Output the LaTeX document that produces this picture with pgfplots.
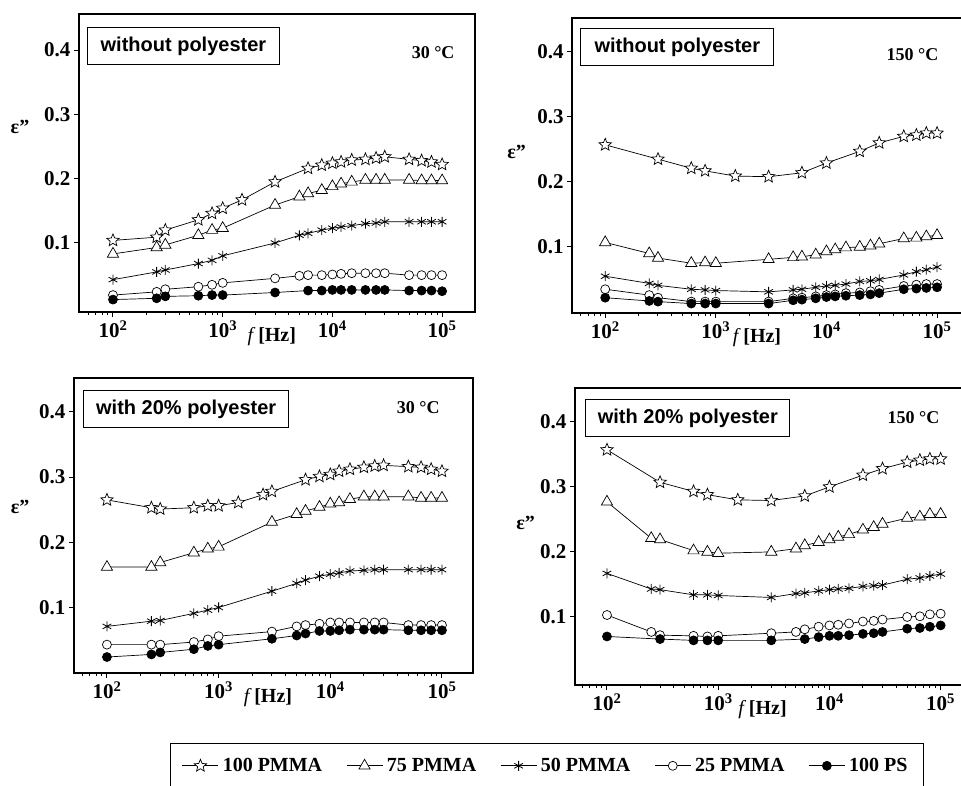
\documentclass[border=0pt]{standalone}
\usepackage{pgfplots}
\pgfplotsset{compat=1.18}
\usepackage{pgfplotstable}
\usepackage{fontspec}
\setmainfont{Liberation Serif}
\setsansfont{Liberation Sans}

\pgfdeclareplotmark{ostar}{%
  \pgfpathmoveto{\pgfpointpolar{90}{\pgfplotmarksize}}%
  \pgfpathlineto{\pgfpointpolar{126}{0.45\pgfplotmarksize}}%
  \pgfpathlineto{\pgfpointpolar{162}{\pgfplotmarksize}}%
  \pgfpathlineto{\pgfpointpolar{198}{0.45\pgfplotmarksize}}%
  \pgfpathlineto{\pgfpointpolar{234}{\pgfplotmarksize}}%
  \pgfpathlineto{\pgfpointpolar{270}{0.45\pgfplotmarksize}}%
  \pgfpathlineto{\pgfpointpolar{306}{\pgfplotmarksize}}%
  \pgfpathlineto{\pgfpointpolar{342}{0.45\pgfplotmarksize}}%
  \pgfpathlineto{\pgfpointpolar{18}{\pgfplotmarksize}}%
  \pgfpathlineto{\pgfpointpolar{54}{0.45\pgfplotmarksize}}%
  \pgfpathclose
  \pgfusepathqfillstroke}

\pgfplotstableread{
f      s100  t75   a50   c25   ps
100    0.104 0.083 0.043 0.019 0.012
250    0.109 0.093 0.055 0.024 0.014
300    0.120 0.097 0.058 0.028 0.017
600    0.136 0.112 0.068 0.032 0.018
800    0.146 0.120 0.073 0.035 0.019
1000   0.154 0.123 0.080 0.038 0.019
1500   0.167 nan   nan   nan   nan
3000   0.195 0.159 0.100 0.045 0.023
5000   nan   0.172 0.112 0.049 nan
6000   0.216 0.177 0.115 0.050 0.026
8000   0.221 0.182 0.120 0.050 0.026
10000  0.224 0.188 0.123 0.051 0.027
12000  0.226 0.192 0.125 0.052 0.027
15000  0.229 0.195 0.127 0.053 0.027
20000  0.230 0.198 0.130 0.053 0.027
25000  0.232 0.198 0.131 0.053 0.027
30000  0.234 0.198 0.133 0.053 0.027
50000  0.230 0.198 0.133 0.050 0.026
65000  0.228 0.197 0.133 0.050 0.026
80000  0.226 0.197 0.133 0.050 0.026
100000 0.222 0.197 0.133 0.050 0.025
}\tA

\pgfplotstableread{
f      s100  t75   a50   c25   ps
100    0.257 0.107 0.055 0.035 0.022
250    nan   0.090 0.044 0.026 0.017
300    0.235 0.083 0.041 0.022 0.016
600    0.221 0.075 0.035 0.016 0.013
800    0.217 0.076 0.034 0.016 0.013
1000   nan   0.075 0.033 0.016 0.013
1500   0.209 nan   nan   nan   nan
3000   0.208 0.081 0.031 0.016 0.013
5000   nan   0.084 0.034 0.021 0.018
6000   0.214 0.085 0.035 0.022 0.019
8000   nan   0.088 0.038 0.024 0.021
10000  0.229 0.093 0.040 0.026 0.023
12000  nan   0.096 0.041 0.027 0.024
15000  nan   0.099 0.043 0.029 0.025
20000  0.247 0.100 0.047 0.030 0.026
25000  nan   0.102 0.048 0.032 0.027
30000  0.260 0.105 0.050 0.034 0.029
50000  0.270 0.113 0.057 0.040 0.035
65000  0.272 0.114 0.062 0.042 0.036
80000  0.275 0.116 0.065 0.043 0.037
100000 0.275 0.118 0.069 0.043 0.038
}\tB

\pgfplotstableread{
f      s100  t75   a50   c25   ps
100    0.265 0.162 0.071 0.043 0.024
250    0.253 0.162 0.079 0.043 0.028
300    0.251 0.169 0.080 0.043 0.031
600    0.253 0.184 0.091 0.047 0.036
800    0.256 0.190 0.096 0.051 0.041
1000   0.256 0.193 0.100 0.056 0.043
1500   0.261 nan   nan   nan   nan
2500   0.273 nan   nan   nan   nan
3000   0.278 0.231 0.125 0.063 0.052
5000   nan   0.243 0.137 0.071 0.057
6000   0.296 0.248 0.142 0.073 0.060
8000   0.301 0.254 0.148 0.075 0.064
10000  0.304 0.259 0.151 0.077 0.064
12000  0.309 0.261 0.153 0.077 0.065
15000  0.312 0.266 0.156 0.077 0.066
20000  0.315 0.270 0.157 0.077 0.066
25000  0.317 0.270 0.158 0.077 0.066
30000  0.318 0.270 0.158 0.077 0.066
50000  0.316 0.270 0.158 0.073 0.065
65000  0.315 0.268 0.158 0.073 0.065
80000  0.312 0.268 0.158 0.073 0.065
100000 0.309 0.268 0.158 0.073 0.065
}\tC

\pgfplotstableread{
f      s100  t75   a50   c25   ps
100    0.357 0.277 0.167 0.103 0.070
250    nan   0.221 0.143 0.077 nan
300    0.307 0.219 0.142 0.072 0.066
600    0.293 0.202 0.134 0.071 0.064
800    0.288 0.200 0.134 0.070 0.064
1000   nan   0.198 0.133 0.071 0.064
1500   0.280 nan   nan   nan   nan
3000   0.279 0.200 0.130 0.075 0.064
5000   nan   0.205 0.136 0.077 nan
6000   0.286 0.210 0.137 0.081 0.066
8000   nan   0.215 0.140 0.085 0.069
10000  0.300 0.219 0.142 0.087 0.071
12000  nan   0.223 0.143 0.088 0.071
15000  nan   0.227 0.144 0.090 0.072
20000  0.318 0.234 0.147 0.093 0.074
25000  nan   0.238 0.148 0.094 0.075
30000  0.328 0.243 0.149 0.096 0.077
50000  0.338 0.252 0.158 0.100 0.082
65000  0.341 0.254 0.160 0.101 0.083
80000  0.343 0.258 0.163 0.104 0.085
100000 0.343 0.258 0.166 0.105 0.087
}\tD

\pgfplotsset{
  mypanel/.style={
    scale only axis,
    axis line style={line width=1.8bp},
    tick align=outside, xtick pos=bottom, ytick pos=left,
    major tick length=5bp, minor tick length=3bp,
    every tick/.style={black, line width=1bp},
    xtick={100,1000,10000,100000},
    xticklabels={10\textsuperscript{2},10\textsuperscript{3},10\textsuperscript{4},10\textsuperscript{5}},
    minor xtick={60,70,80,90,200,300,400,500,600,700,800,900,2000,3000,4000,5000,6000,7000,8000,9000,20000,30000,40000,50000,60000,70000,80000,90000,200000},
    ytick={0.1,0.2,0.3,0.4}, yticklabels={0.1,0.2,0.3,0.4},
    tick label style={font=\bfseries\fontsize{21bp}{21bp}\selectfont},
    xlabel={{\normalfont\itshape f} [Hz]},
    xlabel style={font=\bfseries\fontsize{20bp}{20bp}\selectfont, anchor=north, yshift=-12bp},
    ylabel={ε''},
    ylabel style={font=\bfseries\fontsize{20bp}{20bp}\selectfont, rotate=-90, anchor=center},
    every axis plot/.append style={black, line width=0.7bp},
    legend image code/.code={\draw[mark repeat=2,mark phase=2] plot coordinates {(0bp,0bp) (18bp,0bp) (36bp,0bp)};},
  },
}
\tikzset{
  serA/.style={mark=ostar, mark size=6.5bp, mark options={fill=white, line width=0.7bp}},
  serB/.style={mark=triangle*, mark size=6.5bp, mark options={fill=white, line width=0.7bp}},
  serC/.style={mark=asterisk, mark size=5bp, mark options={line width=0.8bp}},
  serD/.style={mark=*, mark size=4.5bp, mark options={fill=white, line width=0.7bp}},
  serE/.style={mark=*, mark size=4.5bp, mark options={fill=black}},
  boxlab/.style={draw, line width=1bp, anchor=north west, inner sep=0pt, minimum height=37bp,
    font=\sffamily\bfseries\fontsize{20bp}{20bp}\selectfont},
  templab/.style={anchor=east, font=\bfseries\fontsize{18bp}{18bp}\selectfont},
}

\begin{document}
\begin{tikzpicture}
\useasboundingbox (0,0) rectangle (961bp,786bp);

% top-left
\begin{semilogxaxis}[mypanel, at={(79bp,474bp)}, anchor=south west, width=396bp, height=298bp,
  xmin=49, xmax=199500, ymin=-0.0073, ymax=0.456,
  xlabel style={at={(rel axis cs:0.487,0)}},
  ylabel style={at={(rel axis cs:-0.149,0.62)}}]
\addplot[serA] table[x=f,y=s100] {\tA};
\addplot[serB] table[x=f,y=t75] {\tA};
\addplot[serC] table[x=f,y=a50] {\tA};
\addplot[serD] table[x=f,y=c25] {\tA};
\addplot[serE] table[x=f,y=ps] {\tA};
\node[boxlab, minimum width=192bp] at (rel axis cs:0.02,0.956) {without polyester};
\node[templab] at (rel axis cs:0.957,0.869) {30 °C};
\end{semilogxaxis}

% top-right
\begin{semilogxaxis}[mypanel, at={(572bp,473bp)}, anchor=south west, width=396bp, height=295bp,
  xmin=50.1, xmax=190500, ymin=-0.0015, ymax=0.452,
  xlabel style={at={(rel axis cs:0.467,0)}},
  ylabel style={at={(rel axis cs:-0.14,0.546)}}]
\addplot[serA] table[x=f,y=s100] {\tB};
\addplot[serB] table[x=f,y=t75] {\tB};
\addplot[serC] table[x=f,y=a50] {\tB};
\addplot[serD] table[x=f,y=c25] {\tB};
\addplot[serE] table[x=f,y=ps] {\tB};
\node[boxlab, minimum width=193bp] at (rel axis cs:0.021,0.966) {without polyester};
\node[templab] at (rel axis cs:0.934,0.875) {150 °C};
\end{semilogxaxis}

% bottom-left
\begin{semilogxaxis}[mypanel, at={(74bp,113bp)}, anchor=south west, width=399bp, height=295bp,
  xmin=50.7, xmax=189700, ymin=-0.0005, ymax=0.452,
  xlabel style={at={(rel axis cs:0.486,0)}},
  ylabel style={at={(rel axis cs:-0.135,0.563)}},
  legend style={at={(1.185,-0.237)}, anchor=north, legend columns=5, draw=black, line width=1bp,
    font=\bfseries\fontsize{20bp}{20bp}\selectfont, inner xsep=12bp, inner ysep=13bp,
    nodes={inner xsep=4bp},
    /tikz/every even column/.append style={column sep=20bp}}]
\addplot[serA] table[x=f,y=s100] {\tC}; \addlegendentry{100 PMMA}
\addplot[serB] table[x=f,y=t75] {\tC}; \addlegendentry{75 PMMA}
\addplot[serC] table[x=f,y=a50] {\tC}; \addlegendentry{50 PMMA}
\addplot[serD] table[x=f,y=c25] {\tC}; \addlegendentry{25 PMMA}
\addplot[serE] table[x=f,y=ps] {\tC}; \addlegendentry{100 PS}
\node[boxlab, minimum width=205bp] at (rel axis cs:0.023,0.959) {with 20\% polyester};
\node[templab] at (rel axis cs:0.925,0.90) {30 °C};
\end{semilogxaxis}

% bottom-right
\begin{semilogxaxis}[mypanel, at={(575bp,101bp)}, anchor=south west, width=399bp, height=297bp,
  xmin=51.6, xmax=199500, ymin=-0.0046, ymax=0.452,
  xlabel style={at={(rel axis cs:0.47,0)}},
  ylabel style={at={(rel axis cs:-0.124,0.545)}}]
\addplot[serA] table[x=f,y=s100] {\tD};
\addplot[serB] table[x=f,y=t75] {\tD};
\addplot[serC] table[x=f,y=a50] {\tD};
\addplot[serD] table[x=f,y=c25] {\tD};
\addplot[serE] table[x=f,y=ps] {\tD};
\node[boxlab, minimum width=204bp] at (rel axis cs:0.026,0.963) {with 20\% polyester};
\node[templab] at (rel axis cs:0.922,0.90) {150 °C};
\end{semilogxaxis}
\end{tikzpicture}
\end{document}
